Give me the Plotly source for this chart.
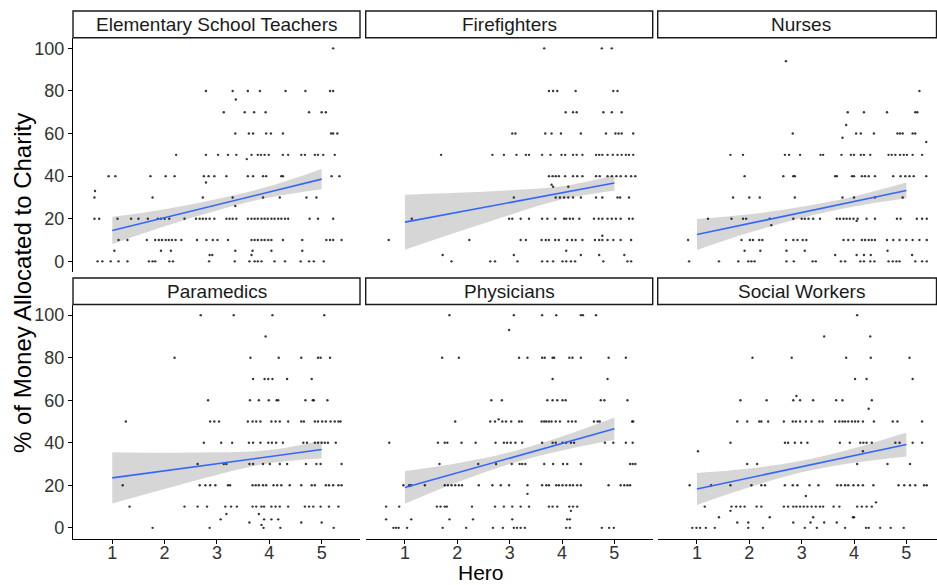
import plotly.graph_objects as go

# ---------------- data ----------------
PANEL_NAMES = ["Elementary School Teachers", "Firefighters", "Nurses",
               "Paramedics", "Physicians", "Social Workers"]

# jittered points: {y value: [x values]}
TEACHERS = {
    100: [5.22],
    80: [2.79, 3.30, 3.59, 3.82, 4.31, 4.69, 5.16, 5.22],
    76: [3.36],
    70: [3.13, 3.53, 3.71, 3.93, 4.76, 5.00, 5.08],
    60: [3.35, 3.61, 3.69, 3.94, 4.03, 4.26, 5.18, 5.22, 5.30],
    50: [2.22, 2.79, 3.02, 3.21, 3.37, 3.66, 3.78, 3.84, 3.91, 3.99, 4.26, 4.36, 4.61, 4.68, 4.87, 4.93, 5.03, 5.25],
    48: [3.57],
    40: [0.93, 1.06, 1.73, 2.02, 2.19, 2.75, 2.84, 2.95, 3.18, 3.59, 3.69, 3.88, 3.94, 4.23, 4.26, 5.19, 5.34],
    37: [2.79],
    33: [0.67],
    30: [0.66, 1.77, 2.73, 3.30, 3.88, 4.20, 4.71, 4.90],
    26: [3.35],
    20: [0.66, 0.75, 1.10, 1.36, 1.50, 1.68, 1.87, 1.93, 2.00, 2.09, 2.38, 2.60, 2.67, 2.73, 2.79, 2.86, 2.95, 3.18, 3.24,
         3.30, 3.37, 3.59, 3.66, 3.72, 3.78, 3.85, 3.91, 3.97, 4.04, 4.10, 4.17, 4.23, 4.30, 4.36, 4.77, 4.93, 5.22],
    10: [1.12, 1.29, 1.66, 1.82, 1.89, 1.95, 2.02, 2.08, 2.14, 2.21, 2.32, 2.62, 2.80, 2.92, 3.01, 3.21, 3.66, 3.72,
         3.78, 3.85, 3.91, 3.98, 4.04, 4.26, 4.63, 5.09, 5.16, 5.22, 5.38],
    5: [1.04, 1.93, 2.12, 3.35, 3.68, 4.04, 4.63],
    3: [2.86, 2.91, 3.66],
    0: [0.72, 0.81, 0.97, 1.12, 1.29, 1.70, 1.77, 1.82, 2.09, 2.16, 2.85, 3.34, 3.62, 3.72, 3.78, 3.85, 4.10, 4.30,
        4.60, 4.76, 4.85, 5.04],
}

FIREFIGHTERS = {
    100: [3.66, 4.76, 4.95],
    80: [3.75, 3.83, 3.91, 4.26, 4.98, 5.06],
    70: [4.07, 4.21, 4.28, 4.79, 4.95, 5.14],
    60: [3.05, 3.11, 3.68, 3.80, 3.98, 4.36, 4.84, 5.02, 5.08, 5.14, 5.36],
    50: [1.69, 2.67, 2.89, 3.13, 3.31, 3.37, 3.62, 3.78, 3.99, 4.06, 4.21, 4.28, 4.39, 4.65, 4.71, 4.77, 4.87, 4.97,
         5.06, 5.14, 5.22, 5.28, 5.36],
    40: [3.75, 3.82, 3.88, 3.94, 4.06, 4.21, 4.29, 4.39, 4.65, 4.72, 4.87, 4.95, 5.04, 5.12, 5.22, 5.32, 5.40],
    36: [3.80],
    35: [3.83, 4.12],
    30: [3.08, 3.88, 3.96, 4.04, 4.12, 4.21, 4.36, 4.65, 4.77, 5.06, 5.11, 5.28],
    20: [1.13, 2.99, 3.05, 3.21, 3.37, 3.62, 3.72, 3.87, 4.04, 4.08, 4.15, 4.21, 4.33, 4.61, 4.70, 4.77, 4.87, 4.95,
         5.03, 5.12, 5.28, 5.35],
    12: [4.77],
    10: [0.69, 2.23, 3.21, 3.31, 3.61, 3.69, 3.75, 3.87, 3.94, 4.10, 4.19, 4.26, 4.39, 4.63, 4.71, 4.77, 4.87, 4.98,
         5.12, 5.32],
    5: [4.08],
    3: [1.72, 3.08, 4.36, 4.71, 5.19],
    0: [1.89, 2.63, 2.72, 3.15, 3.62, 3.72, 3.83, 4.01, 4.08, 4.17, 4.25, 4.79, 5.25, 5.32],
}

NURSES = {
    94: [2.70],
    80: [5.25],
    70: [3.88, 4.19, 4.63, 5.17, 5.21],
    64: [3.85],
    60: [2.83, 4.04, 4.13, 4.38, 4.83, 4.88, 4.93, 5.12, 5.17],
    58: [3.78],
    56: [5.38],
    50: [1.64, 1.88, 2.68, 2.76, 2.97, 3.36, 3.41, 3.76, 3.94, 4.00, 4.13, 4.19, 4.31, 4.66, 4.72, 4.79, 4.88, 4.95,
         5.01, 5.12, 5.30],
    40: [1.91, 2.65, 2.84, 2.87, 3.64, 3.67, 3.96, 4.00, 4.15, 4.21, 4.28, 4.40, 4.75, 4.89, 4.98, 5.06, 5.14, 5.38],
    30: [1.69, 2.00, 2.20, 2.87, 3.78, 4.00, 4.40, 4.93],
    20: [1.21, 1.66, 1.88, 1.94, 2.39, 2.84, 3.00, 3.06, 3.13, 3.22, 3.35, 3.67, 3.73, 3.80, 3.86, 3.92, 3.99, 4.07,
         4.24, 4.40, 4.82, 4.89, 5.20, 5.30, 5.39],
    19: [4.05],
    17: [2.42],
    10: [0.83, 1.85, 2.01, 2.07, 2.19, 2.25, 2.70, 2.84, 2.92, 3.02, 3.09, 3.80, 3.89, 3.99, 4.15, 4.21, 4.28, 4.34,
         4.40, 4.63, 4.75, 4.87, 5.00, 5.12, 5.25, 5.39],
    5: [1.91, 2.21, 2.71, 3.06, 4.64],
    3: [3.64, 4.05, 4.19, 4.32, 5.11],
    0: [0.85, 1.42, 1.79, 1.98, 2.04, 2.10, 2.71, 2.85, 3.21, 3.27, 3.75, 3.83, 4.12, 4.19, 4.31, 4.39, 4.66, 4.74,
        4.81, 4.87, 5.17, 5.30, 5.39],
}

PARAMEDICS = {
    100: [2.69, 3.32, 4.06, 5.05],
    90: [3.93],
    80: [2.19, 3.64, 4.18, 4.61, 4.93, 4.98, 5.16],
    70: [3.69, 3.91, 3.98, 4.06, 4.34, 4.81],
    60: [2.83, 3.63, 3.80, 3.99, 4.14, 4.17, 4.69, 4.83, 4.85, 5.11],
    50: [1.26, 2.87, 2.95, 3.04, 3.59, 3.68, 3.75, 3.83, 4.04, 4.12, 4.20, 4.36, 4.61, 4.66, 4.87, 4.93, 5.01, 5.08,
         5.17, 5.25, 5.32, 5.36],
    40: [2.75, 3.08, 3.29, 3.61, 3.69, 3.83, 3.98, 4.05, 4.13, 4.26, 4.65, 4.72, 4.87, 4.93, 5.00, 5.06, 5.12, 5.27],
    30: [2.63, 3.13, 3.18, 3.62, 3.69, 3.88, 4.01, 4.20, 4.34, 4.70, 4.90, 4.98, 5.38],
    20: [1.20, 2.67, 2.78, 2.87, 2.97, 3.21, 3.25, 3.68, 3.74, 3.80, 3.88, 3.94, 4.08, 4.15, 4.23, 4.39, 4.61, 4.81,
         4.87, 5.08, 5.14, 5.22, 5.32, 5.38],
    10: [1.33, 2.38, 2.63, 2.81, 3.16, 3.27, 3.38, 3.68, 3.75, 3.85, 3.90, 4.04, 4.12, 4.20, 4.36, 4.68, 4.76, 4.84,
         4.98, 5.14, 5.32],
    6.5: [3.18, 3.80],
    4: [3.07, 3.90, 4.04, 4.17],
    2.5: [3.62, 4.61, 5.00],
    1.4: [3.85],
    0: [1.77, 2.86, 3.89, 4.21, 5.23],
}

PHYSICIANS = {
    100: [1.85, 3.08, 3.62, 3.89, 4.36, 4.40, 4.65],
    93: [2.99],
    80: [1.71, 2.03, 3.18, 3.34, 3.62, 3.67, 3.82, 3.85, 4.14, 4.20, 4.36, 4.89, 5.22],
    70: [3.82, 4.87],
    60: [2.65, 2.85, 3.72, 3.82, 3.91, 4.01, 4.07, 4.74, 4.81, 5.25],
    51: [2.79],
    50: [1.96, 2.63, 2.72, 2.86, 2.93, 3.03, 3.18, 3.23, 3.61, 3.66, 3.70, 3.75, 3.80, 3.88, 3.96, 4.12, 4.19, 4.26,
         4.61, 4.68, 4.72, 5.34, 5.36],
    40: [0.70, 1.63, 1.76, 1.81, 2.08, 2.35, 2.73, 2.89, 2.95, 3.02, 3.11, 3.24, 3.62, 3.82, 3.88, 4.01, 4.08, 4.17,
         4.23, 4.82, 4.98, 5.22, 5.35],
    30: [1.66, 2.40, 2.74, 3.04, 3.19, 3.24, 3.30, 3.66, 3.83, 4.02, 4.10, 4.36, 5.30, 5.35, 5.40],
    20: [0.97, 1.08, 1.12, 1.38, 1.76, 1.82, 1.89, 1.96, 2.03, 2.09, 2.41, 2.67, 2.83, 2.99, 3.34, 3.62, 3.70, 3.75,
         3.89, 3.94, 4.01, 4.08, 4.15, 4.21, 4.29, 4.36, 4.89, 5.12, 5.19, 5.25, 5.30],
    16: [3.34],
    10: [0.64, 0.89, 1.61, 1.68, 1.76, 1.80, 2.28, 2.72, 2.89, 3.05, 3.21, 3.37, 3.75, 3.82, 3.91, 4.14, 4.21, 4.29],
    8: [4.17],
    4: [0.64, 1.12, 1.85, 2.30, 3.05, 4.10, 4.15],
    0: [0.78, 0.83, 0.88, 1.04, 1.72, 2.17, 2.68, 2.87, 3.08, 3.14, 3.21, 3.29, 4.08, 4.15, 4.76, 4.90, 4.99],
}

SOCIAL_WORKERS = {
    100: [4.06],
    90: [3.43, 4.31],
    80: [2.06, 2.81, 3.85, 4.32, 5.06],
    70: [4.02, 4.24, 5.12],
    62: [2.90],
    60: [1.83, 2.33, 2.84, 2.97, 3.22, 3.66, 3.78, 4.34],
    56: [4.28],
    50: [1.77, 1.96, 2.19, 2.23, 2.36, 2.66, 2.83, 2.89, 2.97, 3.08, 3.19, 3.34, 3.40, 3.64, 3.72, 3.78, 3.83, 3.89,
         3.96, 4.02, 4.08, 4.17, 4.38, 4.74, 4.83, 5.30],
    40: [1.64, 2.68, 2.74, 2.87, 2.99, 3.11, 3.73, 3.92, 4.12, 4.18, 4.24, 4.34, 4.79, 4.87, 5.12, 5.30],
    36: [1.02, 4.17],
    30: [1.96, 2.15, 4.06, 4.64, 5.07],
    20: [0.86, 1.27, 1.64, 2.04, 2.23, 2.30, 2.68, 2.83, 2.92, 3.15, 3.32, 3.68, 3.75, 3.83, 3.89, 3.99, 4.08, 4.17,
         4.37, 4.85, 4.96, 5.07, 5.17, 5.34, 5.39],
    15: [3.08],
    12: [4.42],
    10: [1.15, 1.66, 1.75, 1.83, 1.91, 2.14, 2.23, 2.66, 2.74, 2.84, 2.90, 2.97, 3.04, 3.11, 3.19, 3.27, 3.35, 3.41,
         3.61, 3.72, 4.06, 4.15, 4.24, 4.34],
    8: [1.64],
    5: [1.42, 2.39, 3.22, 3.98, 4.00],
    2.5: [1.77, 1.98, 2.84, 3.17, 3.43, 3.67],
    0: [0.91, 0.99, 1.06, 1.17, 1.34, 1.98, 2.26, 3.06, 3.29, 3.83, 4.23, 4.28, 4.50, 4.70, 4.95],
}

POINTS = [TEACHERS, FIREFIGHTERS, NURSES, PARAMEDICS, PHYSICIANS, SOCIAL_WORKERS]

# fitted lm line and 95% band (read at Hero = 1..5)
FIT_X = [1, 2, 3, 4, 5]
FIT_Y = [[14.5, 38.6], [18.4, 36.8], [12.6, 33.3], [23.5, 36.8], [19.0, 46.6], [18.3, 39.2]]
BAND_HI = [[20.9, 24.5, 29.3, 35.2, 43.3],
           [31.3, 32.2, 33.4, 35.2, 40.4],
           [19.9, 22.1, 25.6, 30.5, 37.0],
           [35.5, 35.3, 35.5, 36.6, 41.0],
           [26.7, 30.4, 35.6, 43.0, 51.9],
           [25.8, 27.9, 31.5, 37.4, 44.8]]
BAND_LO = [[8.1, 16.5, 23.9, 30.0, 33.9],
           [5.5, 13.8, 21.8, 29.2, 33.2],
           [5.3, 13.5, 20.4, 25.7, 29.6],
           [11.5, 18.3, 24.9, 30.4, 32.6],
           [11.3, 21.4, 30.0, 36.4, 41.3],
           [10.8, 19.1, 26.1, 30.6, 33.6]]

X_TICKS = [1, 2, 3, 4, 5]
Y_TICKS = [0, 20, 40, 60, 80, 100]

# ---------------- layout geometry ----------------
W, H = 937, 585
FONT = "Liberation Sans, Arial, sans-serif"
COL_PX = [(73, 360), (365.7, 652.7), (657.7, 937)]
ROW_PX = [(37.7, 272), (304.5, 538.5)]
STRIP_PX = [(11, 37.7), (278, 304.5)]
PX_PER_UNIT = 52.35
X0 = 0.25


def fx(px):
    return px / W


def fy(py):
    return 1 - py / H


fig = go.Figure()
layout = {}
for i in range(6):
    r, c = divmod(i, 3)
    ax = "" if i == 0 else str(i + 1)
    xref, yref = "x" + ax, "y" + ax
    pts = POINTS[i]
    xs, ys = [], []
    for yv, xl in pts.items():
        for xv in xl:
            xs.append(xv)
            ys.append(yv)
    # band: lower edge then upper edge filled to it
    fig.add_trace(go.Scatter(
        x=FIT_X, y=BAND_LO[i], mode="lines",
        line=dict(width=0, shape="spline", color="rgba(0,0,0,0)"),
        xaxis=xref, yaxis=yref, hoverinfo="skip", showlegend=False))
    fig.add_trace(go.Scatter(
        x=FIT_X, y=BAND_HI[i], mode="lines", fill="tonexty",
        fillcolor="rgba(153,153,153,0.4)",
        line=dict(width=0, shape="spline", color="rgba(0,0,0,0)"),
        xaxis=xref, yaxis=yref, hoverinfo="skip", showlegend=False))
    # points
    fig.add_trace(go.Scatter(
        x=xs, y=ys, mode="markers",
        marker=dict(size=2.4, color="rgba(20,20,20,0.85)"),
        xaxis=xref, yaxis=yref, showlegend=False))
    # fit line
    fig.add_trace(go.Scatter(
        x=[FIT_X[0], FIT_X[-1]], y=FIT_Y[i], mode="lines",
        line=dict(color="#3366FF", width=1.6),
        xaxis=xref, yaxis=yref, showlegend=False))

    c0, c1 = COL_PX[c]
    r0, r1 = ROW_PX[r]
    xmax = X0 + (c1 - c0) / PX_PER_UNIT
    bottom = (r == 1)
    left = (c == 0)
    layout["xaxis" + ax] = dict(
        domain=[fx(c0), fx(c1)], range=[X0, xmax], anchor=yref,
        showgrid=False, zeroline=False,
        showline=bottom, linecolor="black", linewidth=1.1,
        ticks="outside" if bottom else "", ticklen=4, tickcolor="black",
        tickvals=X_TICKS, showticklabels=bottom, ticklabelstandoff=-6,
        tickfont=dict(family=FONT, size=18, color="#333333"))
    layout["yaxis" + ax] = dict(
        domain=[fy(r1), fy(r0)], range=[-5, 105], anchor=xref,
        showgrid=False, zeroline=False,
        showline=left, linecolor="black", linewidth=1.1,
        ticks="outside" if left else "", ticklen=4, tickcolor="black",
        tickvals=Y_TICKS, showticklabels=left,
        tickfont=dict(family=FONT, size=18, color="#333333"))

shapes = []
annotations = []
for i, name in enumerate(PANEL_NAMES):
    r, c = divmod(i, 3)
    c0, c1 = COL_PX[c]
    s0, s1 = STRIP_PX[r]
    shapes.append(dict(type="rect", xref="paper", yref="paper",
                       x0=fx(c0), x1=fx(min(c1, 936.5)), y0=fy(s1), y1=fy(s0),
                       line=dict(color="#1a1a1a", width=1.4), fillcolor="white", layer="above"))
    cx = (c0 + c0 + 287) / 2
    annotations.append(dict(text=name, x=fx(cx), y=fy((s0 + s1) / 2), xref="paper", yref="paper",
                            showarrow=False, xanchor="center", yanchor="middle",
                            font=dict(family=FONT, size=19, color="#1a1a1a")))

annotations.append(dict(text="Hero", x=fx(481), y=fy(572), xref="paper", yref="paper",
                        showarrow=False, xanchor="center", yanchor="middle",
                        font=dict(family=FONT, size=21, color="black")))
annotations.append(dict(text="% of Money Allocated to Charity", x=fx(22), y=fy(283), xref="paper", yref="paper",
                        showarrow=False, xanchor="center", yanchor="middle", textangle=-90,
                        font=dict(family=FONT, size=24, color="black")))

fig.update_layout(width=W, height=H, margin=dict(l=0, r=0, t=0, b=0),
                  paper_bgcolor="white", plot_bgcolor="white",
                  shapes=shapes, annotations=annotations, showlegend=False, **layout)
fig.write_html("out.html")
